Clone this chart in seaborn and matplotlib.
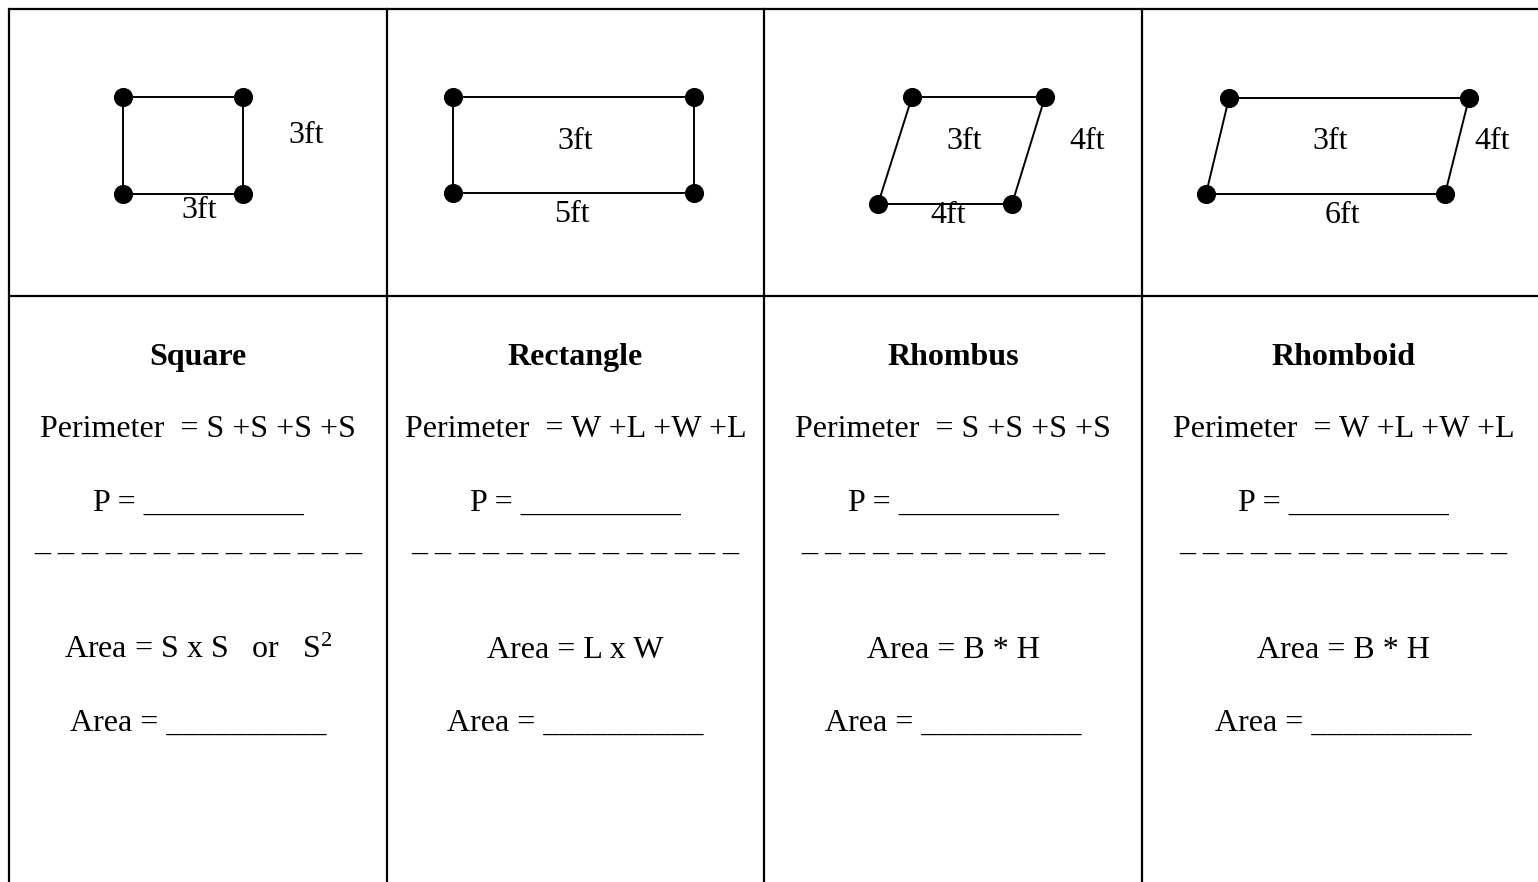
import matplotlib
matplotlib.use("Agg")
import matplotlib.pyplot as plt
import pandas as pd
import seaborn as sns

###1: data (page pixel coords, y grows downwards)
shape_names = ["Square", "Rectangle", "Rhombus", "Rhomboid"]

# corners, clockwise from top-left
square_x = [123, 243, 243, 123]
square_y = [97, 97, 194, 194]
rect_x = [453, 694, 694, 453]
rect_y = [97, 97, 193, 193]
rhombus_x = [912, 1045, 1012, 878]
rhombus_y = [97, 97, 204, 204]
rhomboid_x = [1229, 1469, 1445, 1206]
rhomboid_y = [98, 98, 194, 194]

# side length labels
side_labels = ["3ft", "3ft", "3ft", "5ft", "3ft", "4ft", "4ft", "3ft", "4ft", "6ft"]
side_label_x = [306, 199, 575, 572, 964, 1087, 948, 1330, 1492, 1342]
side_label_y = [143, 218, 149, 222, 149, 149, 223, 149, 149, 223]

perimeter_text = ["Perimeter  = S +S +S +S", "Perimeter  = W +L +W +L",
                  "Perimeter  = S +S +S +S", "Perimeter  = W +L +W +L"]
area_text = ["Area = S x S   or   S$^{2}$", "Area = L x W", "Area = B * H", "Area = B * H"]
dash_count = [14, 14, 13, 14]

###2: layout
col_lines = [9, 387, 764, 1142]
col_centers = [198, 575.5, 953, 1343.5]
row_line = 296
top_line = 9

sns.set_theme(style="white")
plt.rcParams["font.family"] = ["Liberation Serif", "DejaVu Serif"]
plt.rcParams["text.color"] = "black"
plt.rcParams["mathtext.fontset"] = "custom"
plt.rcParams["mathtext.rm"] = "Liberation Serif"
plt.rcParams["mathtext.it"] = "Liberation Serif:italic"

fig = plt.figure(figsize=(15.38, 8.82), dpi=100)
ax = fig.add_axes([0, 0, 1, 1])
ax.set_xlim(0, 1538)
ax.set_ylim(882, 0)
ax.axis("off")

# table grid
for x in col_lines:
    ax.plot([x, x], [top_line, 882], color="black", lw=1.6, solid_capstyle="projecting")
ax.plot([col_lines[0], 1538], [top_line, top_line], color="black", lw=1.6)
ax.plot([col_lines[0], 1538], [row_line, row_line], color="black", lw=1.6)

# shapes
pts = pd.DataFrame({
    "shape": sum([[n] * 4 for n in shape_names], []),
    "x": square_x + rect_x + rhombus_x + rhomboid_x,
    "y": square_y + rect_y + rhombus_y + rhomboid_y,
})
closed = pd.concat([pd.concat([g, g.iloc[:1]]) for _, g in pts.groupby("shape", sort=False)])
sns.lineplot(data=closed, x="x", y="y", units="shape", estimator=None, sort=False,
             color="black", lw=1.4, ax=ax, legend=False)
sns.scatterplot(data=pts, x="x", y="y", color="black", s=190, linewidth=0, ax=ax,
                legend=False, zorder=3)
ax.set_xlim(0, 1538)
ax.set_ylim(882, 0)
ax.set_xlabel("")
ax.set_ylabel("")

fs = 23
for lab, x, y in zip(side_labels, side_label_x, side_label_y):
    ax.text(x, y, lab, fontsize=fs, ha="center", va="baseline", color="black")

# formulas
blank = "_" * 10
for i, cx in enumerate(col_centers):
    ax.text(cx, 365, shape_names[i], fontsize=fs, fontweight="bold", ha="center", va="baseline")
    ax.text(cx, 437, perimeter_text[i], fontsize=fs, ha="center", va="baseline")
    ax.text(cx, 511, "P = " + blank, fontsize=fs, ha="center", va="baseline")
    ax.text(cx, 550, " ".join(["_"] * dash_count[i]), fontsize=fs, ha="center", va="baseline")
    ax.text(cx, 658, area_text[i], fontsize=fs, ha="center", va="baseline")
    ax.text(cx, 731, "Area = " + blank, fontsize=fs, ha="center", va="baseline")

fig.savefig("out.png", dpi=100, facecolor="white")
